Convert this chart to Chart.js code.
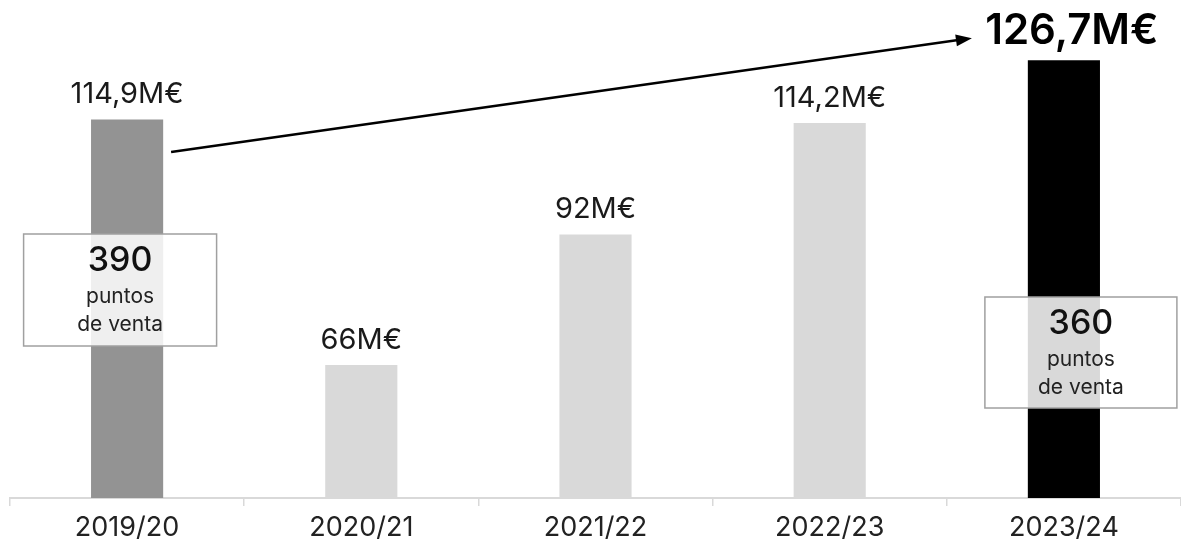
<!DOCTYPE html>
<html>
<head>
<meta charset="utf-8">
<script src="https://cdn.jsdelivr.net/npm/chart.js@4.4.1/dist/chart.umd.min.js"></script>
<style>
  html, body { margin: 0; padding: 0; background: #fff; }
</style>
</head>
<body>
<canvas id="myChart" width="1181" height="543"></canvas>
<script>
const seasons = ['2019/20', '2020/21', '2021/22', '2022/23', '2023/24'];
const revenue = [114.9, 66, 92, 114.2, 126.7];
const revenueLabels = ['114,9M€', '66M€', '92M€', '114,2M€', '126,7M€'];
const barColors = ['#939393', '#d9d9d9', '#d9d9d9', '#d9d9d9', '#000000'];
const storeCounts = ['390', null, null, null, '360'];
const storeText = ['puntos', 'de venta'];

const FONT = 'Inter, "Open Sans", sans-serif';

// value labels above bars + arrow + store boxes
const overlay = {
  id: 'overlay',
  afterDatasetsDraw(chart) {
    const ctx = chart.ctx;
    const bars = chart.getDatasetMeta(0).data;
    const y = chart.scales.y;
    const last = bars.length - 1;

    ctx.save();
    ctx.textAlign = 'center';
    ctx.textBaseline = 'middle';
    bars.forEach((bar, i) => {
      if (i === last) {
        ctx.font = '600 42px ' + FONT;
        ctx.fillStyle = '#000';
        ctx.fillText(revenueLabels[i], bar.x + 8, bar.y - 29);
      } else {
        ctx.font = '400 29px ' + FONT;
        ctx.fillStyle = '#1a1a1a';
        ctx.fillText(revenueLabels[i], bar.x, bar.y - 25);
      }
    });

    // growth arrow
    const x0 = bars[0].x + 44, y0 = y.getPixelForValue(108.4);
    const x1 = bars[last].x - 92, y1 = y.getPixelForValue(131.1);
    const ang = Math.atan2(y1 - y0, x1 - x0);
    ctx.strokeStyle = '#000';
    ctx.lineWidth = 2.5;
    ctx.beginPath();
    ctx.moveTo(x0, y0);
    ctx.lineTo(x1 - 12 * Math.cos(ang), y1 - 12 * Math.sin(ang));
    ctx.stroke();
    ctx.fillStyle = '#000';
    ctx.beginPath();
    ctx.moveTo(x1, y1);
    ctx.lineTo(x1 - 16 * Math.cos(ang) + 6 * Math.sin(ang), y1 - 16 * Math.sin(ang) - 6 * Math.cos(ang));
    ctx.lineTo(x1 - 16 * Math.cos(ang) - 6 * Math.sin(ang), y1 - 16 * Math.sin(ang) + 6 * Math.cos(ang));
    ctx.closePath();
    ctx.fill();

    // boxes with number of stores
    const boxes = [
      { i: 0, dx: -7, top: 234, w: 193, h: 112 },
      { i: last, dx: 17, top: 297, w: 192, h: 111 }
    ];
    boxes.forEach((b) => {
      const cx = bars[b.i].x + b.dx;
      ctx.fillStyle = 'rgba(255,255,255,0.85)';
      ctx.fillRect(cx - b.w / 2, b.top, b.w, b.h);
      ctx.strokeStyle = '#a0a0a0';
      ctx.lineWidth = 1.5;
      ctx.strokeRect(cx - b.w / 2, b.top, b.w, b.h);
      ctx.fillStyle = '#111';
      ctx.font = '500 34px ' + FONT;
      ctx.fillText(storeCounts[b.i], cx, b.top + 27);
      ctx.fillStyle = '#222';
      ctx.font = '400 21px ' + FONT;
      ctx.fillText(storeText[0], cx, b.top + 63);
      ctx.fillText(storeText[1], cx, b.top + 91);
    });
    ctx.restore();
  }
};

new Chart(document.getElementById('myChart'), {
  type: 'bar',
  data: {
    labels: seasons,
    datasets: [{
      data: revenue,
      backgroundColor: barColors,
      borderWidth: 0,
      barPercentage: 0.308,
      categoryPercentage: 1
    }]
  },
  options: {
    responsive: false,
    animation: false,
    layout: { padding: { left: 10, right: 0, top: 0, bottom: 0 } },
    plugins: {
      legend: { display: false },
      tooltip: { enabled: false }
    },
    scales: {
      x: {
        afterFit(scale) { scale.height = 45; },
        grid: {
          display: true,
          drawOnChartArea: false,
          offset: true,
          color: '#d9d9d9',
          lineWidth: 1.5,
          tickLength: 8
        },
        border: { display: true, color: '#d9d9d9', width: 2 },
        ticks: {
          color: '#222',
          padding: 8,
          font: { family: FONT, size: 27, lineHeight: 1 }
        }
      },
      y: {
        display: false,
        min: 39.5,
        max: 138.7
      }
    }
  },
  plugins: [overlay]
});
</script>
</body>
</html>
